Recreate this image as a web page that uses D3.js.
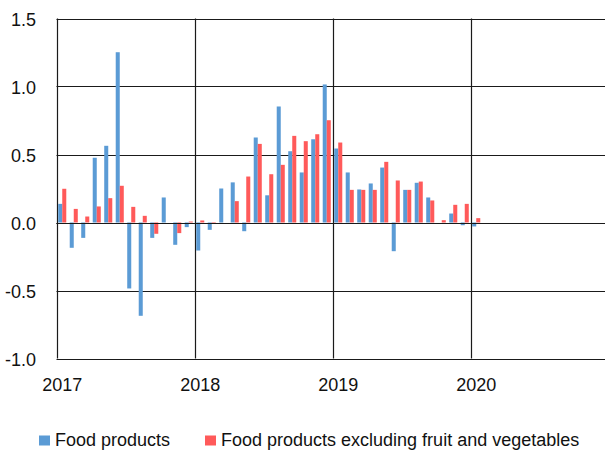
<!DOCTYPE html>
<html>
<head>
<meta charset="utf-8">
<script src="https://cdn.jsdelivr.net/npm/d3@7"></script>
<style>
  html, body { margin: 0; padding: 0; background: #fff; }
  svg { display: block; font-family: "Liberation Sans", Arial, sans-serif; }
</style>
</head>
<body>
<svg id="chart" width="605" height="450"></svg>
<script>
// Months Jan 2017 .. Jan 2020
const months = d3.range(37).map(i => {
  const yr = 2017 + Math.floor(i / 12), m = i % 12 + 1;
  return yr + "-" + String(m).padStart(2, "0");
});
const foodProducts = [
  0.137, -0.186, -0.113, 0.476, 0.564, 1.252, -0.485, -0.686, -0.113, 0.184, -0.164, -0.034,
  -0.206, -0.054, 0.250, 0.295, -0.064, 0.625, 0.200, 0.853, 0.524, 0.368, 0.612, 1.015,
  0.544, 0.368, 0.243, 0.287, 0.404, -0.211, 0.240, 0.292, 0.184, 0.000, 0.066, -0.020,
  -0.029
];
const foodExclFruitVeg = [
  0.248, 0.100, 0.044, 0.118, 0.179, 0.270, 0.115, 0.049, -0.083, 0.000, -0.078, 0.007,
  0.015, -0.010, 0.000, 0.157, 0.338, 0.578, 0.355, 0.424, 0.637, 0.598, 0.649, 0.752,
  0.588, 0.240, 0.240, 0.240, 0.446, 0.309, 0.240, 0.301, 0.162, 0.017, 0.130, 0.137,
  0.032
];
const seriesNames = ["Food products", "Food products excluding fruit and vegetables"];
const seriesColors = ["#5b9bd5", "#ff5a5a"];
const yearLabels = ["2017", "2018", "2019", "2020"];
const yTicks = [-1.0, -0.5, 0.0, 0.5, 1.0, 1.5];

const svg = d3.select("#chart");
const mLeft = 56.5, mRight = 608.5, mTop = 18.5, mBottom = 358.5;

// full axis span: 48 months (2017-2020)
const allMonths = d3.range(48).map(i => (2017 + Math.floor(i / 12)) + "-" + String(i % 12 + 1).padStart(2, "0"));
const x0 = d3.scaleBand().domain(allMonths).range([mLeft, mRight]).paddingInner(0.3).paddingOuter(0.15);
const x1 = d3.scaleBand().domain([0, 1]).range([0, x0.bandwidth()]);
const xm = d3.scaleLinear().domain([0, 48]).range([mLeft, mRight]);
const y = d3.scaleLinear().domain([-1, 1.5]).range([mBottom, mTop]);

// horizontal gridlines
svg.append("g").selectAll("line").data(yTicks).join("line")
  .attr("x1", mLeft).attr("x2", 605)
  .attr("y1", d => Math.round(y(d)) + 0.5).attr("y2", d => Math.round(y(d)) + 0.5)
  .attr("stroke", "#1a1a1a").attr("stroke-width", 1.2);

// vertical year gridlines
svg.append("g").selectAll("line").data(d3.range(5)).join("line")
  .attr("x1", d => Math.round(xm(d * 12)) + 0.5).attr("x2", d => Math.round(xm(d * 12)) + 0.5)
  .attr("y1", y(1.5)).attr("y2", y(-1))
  .attr("stroke", "#1a1a1a").attr("stroke-width", 1.2);

// bars
const series = [foodProducts, foodExclFruitVeg];
series.forEach((vals, si) => {
  svg.append("g").selectAll("rect").data(vals.map((v, i) => ({ m: months[i], v })))
    .join("rect")
    .attr("x", d => x0(d.m) + x1(si))
    .attr("width", x1.bandwidth())
    .attr("y", d => y(Math.max(0, d.v)))
    .attr("height", d => Math.abs(y(d.v) - y(0)))
    .attr("fill", seriesColors[si]);
});

// zero line on top
svg.append("line")
  .attr("x1", mLeft).attr("x2", 605)
  .attr("y1", Math.round(y(0)) + 0.5).attr("y2", Math.round(y(0)) + 0.5)
  .attr("stroke", "#1a1a1a").attr("stroke-width", 1.2);

// y labels
const fmt = d => d3.format(".1f")(d).replace("\u2212", "-");
svg.append("g").selectAll("text").data(yTicks).join("text")
  .attr("x", 36).attr("y", d => y(d) + 7)
  .attr("text-anchor", "end")
  .attr("font-size", 18).attr("fill", "#111")
  .text(fmt);

// x labels
svg.append("g").selectAll("text").data(yearLabels).join("text")
  .attr("x", d => x0(d + "-01") + x0.bandwidth() / 2)
  .attr("y", 391)
  .attr("text-anchor", "middle")
  .attr("font-size", 18).attr("fill", "#111")
  .text(d => d);

// legend
const legendX = [39, 205];
const lg = svg.append("g");
seriesNames.forEach((name, i) => {
  lg.append("rect").attr("x", legendX[i]).attr("y", 435.5).attr("width", 11).attr("height", 10)
    .attr("fill", seriesColors[i]);
  lg.append("text").attr("x", legendX[i] + 16).attr("y", 446)
    .attr("font-size", 18).attr("fill", "#111").text(name);
});
</script>
</body>
</html>
